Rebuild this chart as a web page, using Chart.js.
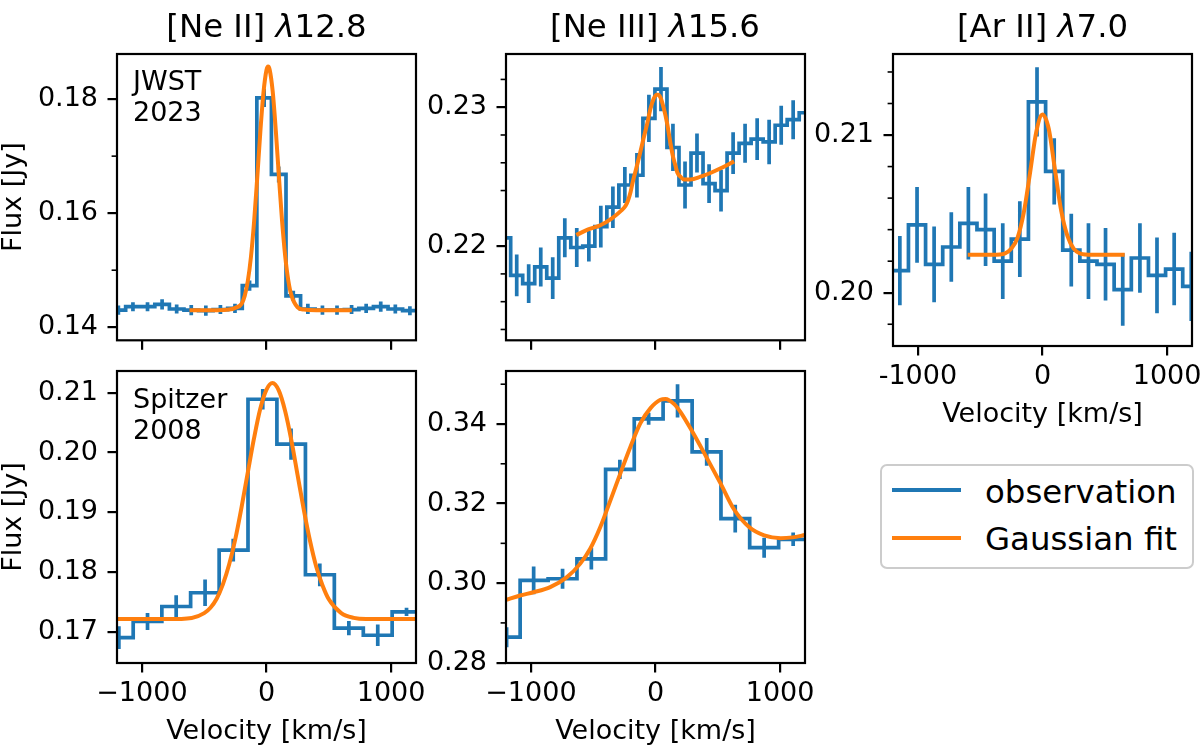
<!DOCTYPE html>
<html>
<head>
<meta charset="utf-8">
<title>Emission line profiles</title>
<script src="https://cdn.jsdelivr.net/npm/chart.js@4.4.1/dist/chart.umd.min.js"></script>
<style>
  html, body { margin:0; padding:0; background:#ffffff; overflow:hidden; }
  #fig { position:relative; width:1200px; height:747px; overflow:hidden; background:#fff; font-family:"DejaVu Sans", sans-serif; color:#000; }
  #fig canvas { position:absolute; }
  .ptitle { position:absolute; width:400px; text-align:center; font-size:32.4px; line-height:32.4px; white-space:nowrap; z-index:5; }
  .note { position:absolute; font-size:27px; line-height:31px; white-space:pre; z-index:5; }
  #legend { position:absolute; left:880px; top:464px; width:314px; height:105px; box-sizing:border-box; border:2px solid #cccccc; border-radius:7px; background:#fff; z-index:5; }
  .lg-line { position:absolute; left:10px; width:69px; height:3.8px; }
  .lg-text { position:absolute; left:103px; font-size:32.4px; line-height:32.4px; white-space:nowrap; }
</style>
</head>
<body>
<div id="fig">
  <canvas id="cA" width="436" height="352" style="left:0px;top:14px"></canvas>
  <canvas id="cB" width="436" height="416" style="left:0px;top:331px"></canvas>
  <canvas id="cC" width="436" height="352" style="left:389px;top:14px"></canvas>
  <canvas id="cD" width="436" height="416" style="left:389px;top:331px"></canvas>
  <canvas id="cE" width="436" height="416" style="left:776px;top:14px"></canvas>

  <div class="ptitle" style="left:66.5px;top:10.4px">[Ne II] <i>λ</i>12.8</div>
  <div class="ptitle" style="left:455px;top:10.4px">[Ne III] <i>λ</i>15.6</div>
  <div class="ptitle" style="left:842.5px;top:10.4px">[Ar II] <i>λ</i>7.0</div>

  <div class="note" style="left:133px;top:64.9px">JWST
2023</div>
  <div class="note" style="left:133px;top:382.5px">Spitzer
2008</div>

  <div id="legend">
    <div class="lg-line" style="top:22.1px;background:#1f77b4"></div>
    <div class="lg-text" style="top:9.9px">observation</div>
    <div class="lg-line" style="top:70.1px;background:#ff7f0e"></div>
    <div class="lg-text" style="top:56.6px">Gaussian fit</div>
  </div>
</div>

<script>
// ---------------- data ----------------
const velocityTicks = [-1000, 0, 1000];
const velocityLabelsMinus = ['\u22121000', '0', '1000'];
const velocityLabelsHyphen = ['-1000', '0', '1000'];

// [Ne II] 12.8 - JWST 2023
const neIIJwstVel  = [-1189,-1072,-955,-838,-721,-604,-487,-370,-253,-136,-19,98,215,332,449,566,683,800,917,1034,1151,1268];
const neIIJwstFlux = [0.1430,0.1436,0.1436,0.1440,0.1432,0.1430,0.1429,0.1431,0.1433,0.1473,0.1802,0.1668,0.1455,0.1432,0.1430,0.1430,0.1431,0.1433,0.1436,0.1432,0.1429,0.1429];
const neIIJwstErr  = [0.0008,0.0008,0.0008,0.0009,0.0008,0.0009,0.0009,0.0008,0.0008,0.0009,0.0016,0.0014,0.0009,0.0009,0.0008,0.0008,0.0008,0.0008,0.0009,0.0008,0.0008,0.0008];
const neIIJwstFitVel  = [-618,-400,-300,-250,-200,-175,-150,-125,-100,-75,-50,-25,0,13,25,50,75,100,125,150,175,200,250,300,400,685];
const neIIJwstFitFlux = [0.1430,0.1430,0.1431,0.1434,0.1441,0.1455,0.1481,0.1523,0.1584,0.1660,0.1741,0.1810,0.1851,0.1857,0.1852,0.1813,0.1744,0.1663,0.1586,0.1525,0.1482,0.1456,0.1435,0.1431,0.1430,0.1430];
const neIIJwstYTicks = [0.14, 0.16, 0.18];
const neIIJwstYMinor = [0.15, 0.17];

// [Ne II] 12.8 - Spitzer 2008
const neIISpitzerVel  = [-1185,-955,-725,-493,-267,-30,197,428,661,893,1124,1355];
const neIISpitzerFlux = [0.1691,0.1718,0.1743,0.1766,0.1837,0.2089,0.2014,0.1796,0.1707,0.1695,0.1734,0.1734];
const neIISpitzerErr  = [0.0019,0.0014,0.0019,0.0022,0.0019,0.0017,0.0026,0.0019,0.0012,0.0018,0.0007,0.0007];
const neIISpitzerFitVel  = [-1200,-800,-600,-500,-450,-400,-350,-300,-250,-200,-150,-100,-50,0,48,100,150,200,250,300,350,400,450,500,600,700,800,1200];
const neIISpitzerFitFlux = [0.1722,0.1722,0.1724,0.1732,0.1741,0.1756,0.1780,0.1813,0.1856,0.1909,0.1967,0.2024,0.2073,0.2105,0.2116,0.2103,0.2069,0.2020,0.1962,0.1904,0.1852,0.1809,0.1778,0.1755,0.1732,0.1724,0.1722,0.1722];
const neIISpitzerYTicks = [0.17, 0.18, 0.19, 0.20, 0.21];
const neIISpitzerYMinor = [];

// [Ne III] 15.6 - JWST 2023
const neIIIJwstVel  = [-1211,-1114,-1018,-921,-825,-728,-632,-535,-439,-342,-246,-149,-53,44,140,237,333,430,526,623,719,816,912,1009,1105,1202];
const neIIIJwstFlux = [0.2206,0.2179,0.2173,0.2185,0.2177,0.2206,0.2199,0.2200,0.2214,0.2228,0.2244,0.2251,0.2292,0.2313,0.2271,0.2244,0.2267,0.2245,0.2240,0.2267,0.2274,0.2277,0.2275,0.2287,0.2291,0.2296];
const neIIIJwstErr  = [0.0014,0.0015,0.0014,0.0014,0.0015,0.0014,0.0014,0.0011,0.0015,0.0015,0.0013,0.0016,0.0017,0.0016,0.0017,0.0017,0.0014,0.0014,0.0015,0.0015,0.0014,0.0015,0.0016,0.0014,0.0014,0.0014];
const neIIIJwstFitVel  = [-636,-540,-443,-350,-282,-240,-220,-200,-183,-160,-129,-100,-67,-40,-15,10,21,40,67,94,120,139,160,175,200,228,282,362,450,523,631];
const neIIIJwstFitFlux = [0.2208,0.2212,0.2215,0.2220,0.2225,0.2229,0.2233,0.2239,0.2246,0.2254,0.2265,0.2276,0.2288,0.2299,0.2306,0.2309,0.2309,0.2307,0.2299,0.2288,0.2274,0.2265,0.2258,0.2253,0.2250,0.2248,0.2248,0.2250,0.2253,0.2256,0.2261];
const neIIIJwstYTicks = [0.22, 0.23];
const neIIIJwstYMinor = [0.214, 0.216, 0.218, 0.224, 0.226, 0.228, 0.232];

// [Ne III] 15.6 - Spitzer 2008
const neIIISpitzerVel  = [-1195,-978,-746,-515,-286,-55,177,411,640,872,1105,1340];
const neIIISpitzerFlux = [0.2864,0.3007,0.3011,0.3061,0.3286,0.3413,0.3458,0.3330,0.3162,0.3089,0.3110,0.3110];
const neIIISpitzerErr  = [0.0025,0.0035,0.0025,0.0027,0.0024,0.0015,0.0042,0.0035,0.0035,0.0025,0.0017,0.0017];
const neIIISpitzerFitVel  = [-1200,-1087,-980,-845,-711,-604,-523,-443,-362,-282,-201,-121,-40,40,80,150,201,295,389,523,631,751,872,1006,1100,1200];
const neIIISpitzerFitFlux = [0.2958,0.2969,0.2977,0.2990,0.3015,0.3049,0.3087,0.3141,0.3208,0.3276,0.3343,0.3402,0.3440,0.3461,0.3463,0.3450,0.3430,0.3381,0.3328,0.3250,0.3185,0.3141,0.3120,0.3113,0.3115,0.3121];
const neIIISpitzerYTicks = [0.28, 0.30, 0.32, 0.34];
const neIIISpitzerYMinor = [0.29, 0.31, 0.33, 0.35];

// [Ar II] 7.0 - JWST 2023
const arIIJwstVel  = [-1283,-1145,-1007,-870,-732,-595,-457,-319,-182,-44,94,231,369,506,644,782,919,1057,1194];
const arIIJwstFlux = [0.2014,0.2014,0.2043,0.2018,0.2029,0.2044,0.2040,0.2020,0.2034,0.2121,0.2077,0.2027,0.2020,0.2018,0.2002,0.2022,0.2011,0.2015,0.2004];
const arIIJwstErr  = [0.0022,0.0022,0.0024,0.0024,0.0022,0.0023,0.0023,0.0024,0.0024,0.0022,0.0021,0.0023,0.0024,0.0023,0.0023,0.0022,0.0024,0.0023,0.0022];
const arIIJwstFitVel  = [-600,-400,-300,-250,-200,-150,-100,-50,0,50,100,150,200,250,300,400,660];
const arIIJwstFitFlux = [0.2024,0.2024,0.2025,0.2028,0.2035,0.2051,0.2076,0.2102,0.2113,0.2104,0.2078,0.2052,0.2036,0.2028,0.2025,0.2024,0.2024];
const arIIJwstYTicks = [0.20, 0.21];
const arIIJwstYMinor = [0.198, 0.202, 0.204, 0.206, 0.208, 0.212, 0.214];

// ---------------- drawing ----------------
const BLUE = '#1f77b4';
const ORANGE = '#ff7f0e';
const FONT = "'DejaVu Sans', sans-serif";

function points(xs, ys) { return xs.map((x, i) => ({ x: x, y: ys[i] })); }
function errorSegments(xs, ys, es) {
  const out = [];
  xs.forEach((x, i) => {
    out.push({ x: x, y: ys[i] - es[i] }, { x: x, y: ys[i] + es[i] }, { x: x, y: null });
  });
  return out;
}

const minorTicksPlugin = {
  id: 'minorTicks',
  afterDraw(chart, args, opts) {
    const ctx = chart.ctx, area = chart.chartArea, y = chart.scales.y;
    ctx.save();
    ctx.strokeStyle = '#000';
    ctx.lineWidth = 1.6;
    (opts.values || []).forEach(v => {
      const py = y.getPixelForValue(v);
      ctx.beginPath();
      ctx.moveTo(area.left, py);
      ctx.lineTo(area.left - 5.4, py);
      ctx.stroke();
    });
    ctx.restore();
  }
};

const framePlugin = {
  id: 'frame',
  afterDraw(chart) {
    const ctx = chart.ctx, a = chart.chartArea;
    ctx.save();
    ctx.strokeStyle = '#000';
    ctx.lineWidth = 2.2;
    ctx.strokeRect(a.left, a.top, a.right - a.left, a.bottom - a.top);
    ctx.restore();
  }
};

function makePanel(id, p) {
  const tickGrid = { drawOnChartArea: false, drawTicks: true, tickLength: 9.5, tickWidth: 2.2, tickColor: '#000', color: '#000', lineWidth: 2.2 };
  new Chart(document.getElementById(id), {
    type: 'line',
    data: {
      datasets: [
        { label: 'Gaussian fit', data: points(p.fitVel, p.fitFlux), borderColor: ORANGE, borderWidth: 4,
          pointRadius: 0, cubicInterpolationMode: 'monotone', order: 0, clip: 0 },
        { label: 'observation', data: points(p.vel, p.flux), borderColor: BLUE, borderWidth: 3.7,
          pointRadius: 0, stepped: 'middle', order: 1, clip: 0 },
        { label: 'uncertainty', data: errorSegments(p.vel, p.flux, p.err), borderColor: BLUE, borderWidth: 3.7,
          pointRadius: 0, spanGaps: false, order: 2, clip: 0 }
      ]
    },
    options: {
      responsive: false,
      animation: false,
      events: [],
      layout: { padding: { left: 0, top: 40, right: 20, bottom: 0 } },
      plugins: {
        legend: { display: false },
        tooltip: { enabled: false },
        minorTicks: { values: p.yMinor }
      },
      scales: {
        x: {
          type: 'linear', min: -1200, max: 1200,
          afterBuildTicks: s => { s.ticks = velocityTicks.map(v => ({ value: v })); },
          afterFit: s => { s.height = p.xHeight; },
          grid: tickGrid,
          border: { display: false },
          ticks: {
            display: !!p.xLabels, autoSkip: false, maxRotation: 0, minRotation: 0,
            font: { family: FONT, size: 27 }, color: '#000', padding: 5.3,
            callback: (v, i) => (p.xLabels ? p.xLabels[i] : '')
          },
          title: { display: !!p.xTitle, text: 'Velocity [km/s]', color: '#000',
                   font: { family: FONT, size: 27, lineHeight: 1 }, padding: { top: 0, bottom: 1.5 } }
        },
        y: {
          type: 'linear', min: p.yMin, max: p.yMax,
          afterBuildTicks: s => { s.ticks = p.yTicks.map(v => ({ value: v })); },
          afterFit: s => { s.width = 117; },
          grid: tickGrid,
          border: { display: false },
          ticks: { autoSkip: false, font: { family: FONT, size: 27 }, color: '#000', padding: 9.5,
                   callback: v => Number(v).toFixed(2) },
          title: { display: !!p.yTitle, text: 'Flux [Jy]', color: '#000',
                   font: { family: FONT, size: 27, lineHeight: 1 }, padding: { top: 0, bottom: 0 } }
        }
      }
    },
    plugins: [minorTicksPlugin, framePlugin]
  });
}

makePanel('cA', { vel: neIIJwstVel, flux: neIIJwstFlux, err: neIIJwstErr, fitVel: neIIJwstFitVel, fitFlux: neIIJwstFitFlux,
  yTicks: neIIJwstYTicks, yMinor: neIIJwstYMinor, yMin: 0.13771, yMax: 0.18791,
  xLabels: null, xTitle: false, yTitle: true, xHeight: 20 });
makePanel('cB', { vel: neIISpitzerVel, flux: neIISpitzerFlux, err: neIISpitzerErr, fitVel: neIISpitzerFitVel, fitFlux: neIISpitzerFitFlux,
  yTicks: neIISpitzerYTicks, yMinor: neIISpitzerYMinor, yMin: 0.16487, yMax: 0.21362,
  xLabels: velocityLabelsMinus, xTitle: true, yTitle: true, xHeight: 84 });
makePanel('cC', { vel: neIIIJwstVel, flux: neIIIJwstFlux, err: neIIIJwstErr, fitVel: neIIIJwstFitVel, fitFlux: neIIIJwstFitFlux,
  yTicks: neIIIJwstYTicks, yMinor: neIIIJwstYMinor, yMin: 0.21322, yMax: 0.23383,
  xLabels: null, xTitle: false, yTitle: false, xHeight: 20 });
makePanel('cD', { vel: neIIISpitzerVel, flux: neIIISpitzerFlux, err: neIIISpitzerErr, fitVel: neIIISpitzerFitVel, fitFlux: neIIISpitzerFitFlux,
  yTicks: neIIISpitzerYTicks, yMinor: neIIISpitzerYMinor, yMin: 0.27992, yMax: 0.35332,
  xLabels: velocityLabelsMinus, xTitle: true, yTitle: false, xHeight: 84 });
makePanel('cE', { vel: arIIJwstVel, flux: arIIJwstFlux, err: arIIJwstErr, fitVel: arIIJwstFitVel, fitFlux: arIIJwstFitFlux,
  yTicks: arIIJwstYTicks, yMinor: arIIJwstYMinor, yMin: 0.19662, yMax: 0.21514,
  xLabels: velocityLabelsHyphen, xTitle: true, yTitle: false, xHeight: 84 });
</script>
</body>
</html>
